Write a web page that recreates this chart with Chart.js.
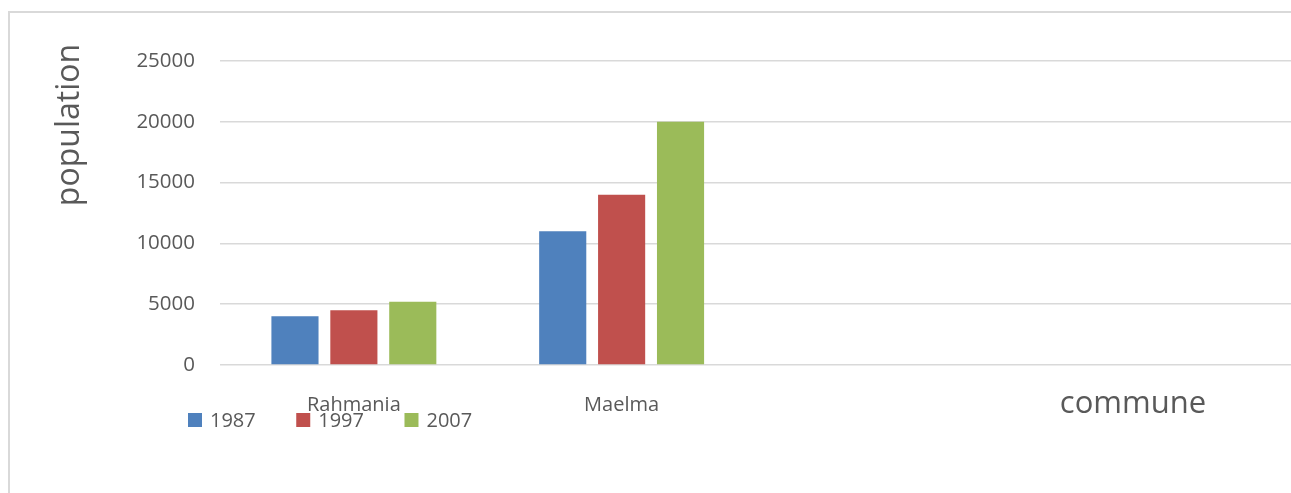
<!DOCTYPE html>
<html>
<head>
<meta charset="utf-8">
<script src="https://cdn.jsdelivr.net/npm/chart.js@4/dist/chart.umd.min.js"></script>
<style>
  html, body { margin: 0; padding: 0; background: #ffffff; }
  #wrap { position: relative; width: 1291px; height: 493px; }
</style>
</head>
<body>
<div id="wrap"><canvas id="c" width="1291" height="493"></canvas></div>
<script>
// Population by commune and census year
const communes = ['Rahmania', 'Maelma', '', ''];
const years = ['1987', '1997', '2007'];
const pop1987 = [4000, 11000, null, null];
const pop1997 = [4500, 14000, null, null];
const pop2007 = [5200, 20000, null, null];
const yTicks = [0, 5000, 10000, 15000, 20000, 25000];

const colors = ['#4F81BD', '#C0504D', '#9BBB59'];
const textColor = '#595959';
const fontFamily = '"Open Sans", "Liberation Sans", sans-serif';

// Frame, axis titles and the legend row under the category labels
const decorations = {
  id: 'decorations',
  beforeDraw(chart) {
    const ctx = chart.ctx;
    ctx.save();
    ctx.strokeStyle = '#D9D9D9';
    ctx.lineWidth = 2;
    ctx.strokeRect(9, 12, 1400, 600);
    ctx.restore();
  },
  afterDraw(chart) {
    const ctx = chart.ctx;
    ctx.save();
    ctx.fillStyle = textColor;

    // y axis title
    ctx.font = '32px ' + fontFamily;
    ctx.textAlign = 'center';
    ctx.textBaseline = 'middle';
    ctx.translate(70, 125);
    ctx.rotate(-Math.PI / 2);
    ctx.fillText('population', 0, 0);
    ctx.setTransform(1, 0, 0, 1, 0, 0);

    // x axis title
    ctx.font = '31px ' + fontFamily;
    ctx.textAlign = 'center';
    ctx.fillText('commune', 1133, 404);

    // legend
    ctx.font = '20px ' + fontFamily;
    ctx.textAlign = 'left';
    let x = 188;
    const y = 420;
    chart.data.datasets.forEach((ds) => {
      ctx.fillStyle = ds.backgroundColor;
      ctx.fillRect(x, y - 7, 14, 14);
      ctx.fillStyle = textColor;
      ctx.fillText(ds.label, x + 22, y + 1);
      x += 22 + ctx.measureText(ds.label).width + 40.5;
    });
    ctx.restore();
  }
};

const datasets = [pop1987, pop1997, pop2007].map((vals, i) => ({
  label: years[i],
  data: vals,
  backgroundColor: colors[i],
  borderWidth: 0,
  categoryPercentage: 0.66,
  barPercentage: 0.8
}));

new Chart(document.getElementById('c'), {
  type: 'bar',
  data: { labels: communes, datasets },
  options: {
    responsive: false,
    animation: false,
    layout: { padding: { top: 61, right: 0, bottom: 0, left: 0 } },
    plugins: {
      legend: { display: false },
      tooltip: { enabled: false }
    },
    scales: {
      x: {
        grid: { display: false },
        border: { display: false },
        ticks: {
          color: textColor,
          font: { family: fontFamily, size: 20 },
          padding: 20,
          maxRotation: 0,
          autoSkip: false
        },
        afterFit(scale) { scale.height = 128; }
      },
      y: {
        min: 0,
        max: 25000,
        afterBuildTicks(scale) { scale.ticks = yTicks.map(v => ({ value: v })); },
        grid: { color: '#D9D9D9', lineWidth: 1.5, drawTicks: false },
        border: { display: false },
        ticks: {
          color: textColor,
          font: { family: fontFamily, size: 20.5 },
          padding: 25,
          callback: (v) => String(v)
        },
        afterFit(scale) { scale.width = 220; }
      }
    }
  },
  plugins: [decorations]
});
</script>
</body>
</html>
